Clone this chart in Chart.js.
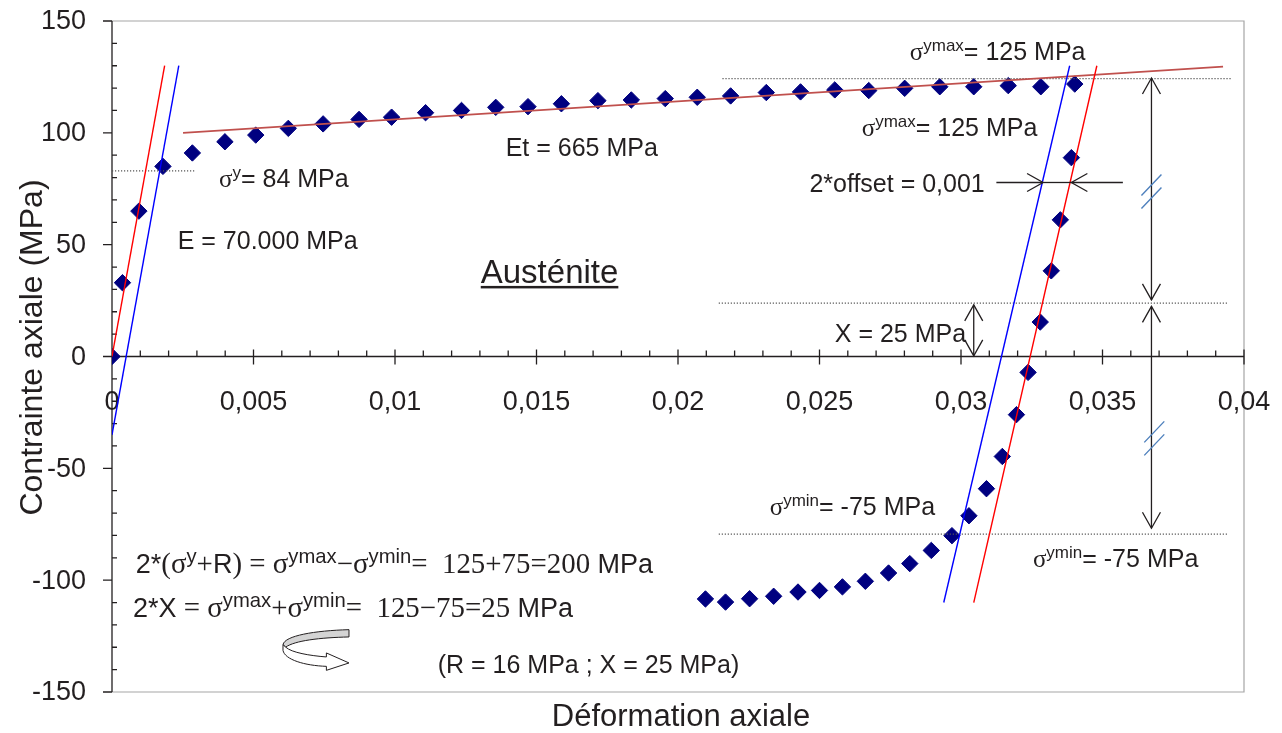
<!DOCTYPE html>
<html>
<head>
<meta charset="utf-8">
<script src="https://cdn.jsdelivr.net/npm/chart.js@4/dist/chart.umd.min.js"></script>
<style>
  html, body { margin: 0; padding: 0; background: #fff; }
  #wrap { width: 1282px; height: 733px; position: relative; }
</style>
</head>
<body>
<div id="wrap"><canvas id="courbe"></canvas></div>
<script>
// DONNEES DE L'ESSAI
const chargeDef = [0, 0.00037, 0.00095, 0.0018, 0.00284, 0.00399, 0.00508, 0.00623, 0.00746, 0.00873, 0.00988,
  0.01108, 0.01235, 0.01356, 0.0147, 0.01588, 0.01717, 0.01835, 0.01955, 0.02068, 0.02186,
  0.02312, 0.02433, 0.02554, 0.02674, 0.02801, 0.02925, 0.03045, 0.03167, 0.03282, 0.03402];
const chargeContr = [0, 33, 65, 85, 91, 96, 99, 102, 104, 106, 107,
  109, 110, 111.4, 111.7, 113, 114.4, 114.7, 115.3, 115.9, 116.5,
  118, 118.3, 119.2, 118.9, 119.9, 120.6, 120.6, 121.1, 120.6, 121.8];
const dechargeDef = [0.0339, 0.03351, 0.03319, 0.0328, 0.03237, 0.03196, 0.03146, 0.0309, 0.03028, 0.02968, 0.02895,
  0.02819, 0.02744, 0.02662, 0.02581, 0.025, 0.02424, 0.02338, 0.02253, 0.02168, 0.02097];
const dechargeContr = [88.9, 61.1, 38.3, 15.4, -7.1, -26, -44.7, -59.1, -71.2, -80.1, -86.7,
  -92.6, -96.8, -100.5, -103, -104.6, -105.3, -107.2, -108.3, -109.8, -108.4];

// droites
const elastDef = [0, 0.00186];          const elastContr = [0, 130];
const offsetDef = [0, 0.00236];         const offsetContr = [-35, 130];
const ecrouDef = [0.00251, 0.03926];    const ecrouContr = [100, 129.6];
const elast2Def = [0.03045, 0.0348];    const elast2Contr = [-110, 130];
const offset2Def = [0.02939, 0.03384];  const offset2Contr = [-110, 130];

// lignes pointillées
const sigYDef = [0, 0.00292];           const sigYContr = [83, 83];
const sigMaxDef = [0.02157, 0.03955];   const sigMaxContr = [124.2, 124.2];
const xDef = [0.02144, 0.0394];         const xContr = [23.9, 23.9];
const sigMinDef = [0.02144, 0.0394];    const sigMinContr = [-79.4, -79.4];

// axes
const xTicks = [0, 0.005, 0.01, 0.015, 0.02, 0.025, 0.03, 0.035, 0.04];
const yTicks = [150, 100, 50, 0, -50, -100, -150];

const INK = "#231f20";
const SANS = '"Liberation Sans", Arial, sans-serif';
const SERIF = '"Liberation Serif", "Times New Roman", serif';

function pts(xs, ys) {
  return xs.map((x, i) => ({ x: x, y: ys[i] }));
}

function droite(xs, ys, color, width, dash) {
  return {
    data: pts(xs, ys),
    showLine: true,
    borderColor: color,
    borderWidth: width,
    borderDash: dash || [],
    pointRadius: 0,
    order: 1,
  };
}

// textes (ancre gauche/ligne de base en coordonnées de données)
// 'a' = sans, 's' = serif, '^' = exposant
const textes = [
  { x: 0.00378, y: 75.8, size: 25, segs: [["σ", "s"], ["y", "^"], ["= 84 MPa", "a"]] },
  { x: 0.00232, y: 48.1, size: 25, segs: [["E = 70.000 MPa", "a"]] },
  { x: 0.01391, y: 89.7, size: 25, segs: [["Et = 665 MPa", "a"]] },
  { x: 0.02819, y: 132.6, size: 25, segs: [["σ", "s"], ["ymax", "^"], ["= 125 MPa", "a"]] },
  { x: 0.02649, y: 98.6, size: 25, segs: [["σ", "s"], ["ymax", "^"], ["= 125 MPa", "a"]] },
  { x: 0.03084, y: 73.6, size: 25, align: "right", segs: [["2*offset = 0,001", "a"]] },
  { x: 0.02554, y: 6.6, size: 25, segs: [["X = 25 MPa", "a"]] },
  { x: 0.02324, y: -70.8, size: 25, segs: [["σ", "s"], ["ymin", "^"], ["= -75 MPa", "a"]] },
  { x: 0.03254, y: -94, size: 25, segs: [["σ", "s"], ["ymin", "^"], ["= -75 MPa", "a"]] },
  { x: 0.00084, y: -96.7, size: 27, serif: 1.07, sup: 0.75, segs: [["2*", "a"], ["(", "s"], ["σ", "s"], ["y", "^"], ["+", "s"], ["R", "a"], [")", "s"],
      [" = ", "s"], ["σ", "s"], ["ymax", "^"], ["−", "s"], ["σ", "s"], ["ymin", "^"], ["=  125+75=200", "s"], [" MPa", "a"]] },
  { x: 0.00074, y: -116.3, size: 27, serif: 1.07, sup: 0.75, segs: [["2*X", "a"], [" = ", "s"], ["σ", "s"], ["ymax", "^"], ["+", "s"], ["σ", "s"], ["ymin", "^"],
      ["=  125−75=25", "s"], [" MPa", "a"]] },
  { x: 0.01151, y: -141.3, size: 25, segs: [["(R = 16 MPa ; X = 25 MPa)", "a"]] },
  { x: 0.01303, y: 32.9, size: 33, underline: true, segs: [["Austénite", "a"]] },
];

// flèches (coordonnées de données), têtes aux extrémités indiquées
const fleches = [
  { a: [0.03673, 124.5], b: [0.03673, 25.3], headA: true, headB: true },
  { a: [0.03673, 22.4], b: [0.03673, -76.8], headA: true, headB: true },
  { a: [0.03045, 23.1], b: [0.03045, 0.3], headA: true, headB: true },
  { a: [0.03125, 77.8], b: [0.0329, 77.8], headA: false, headB: true },
  { a: [0.03572, 77.8], b: [0.0339, 77.8], headA: false, headB: true },
  { a: [0.0329, 77.8], b: [0.0339, 77.8], headA: false, headB: false },
];
const coupures = [[0.03673, 73.8], [0.03683, -36.6]];
const iconeRot = [0.005572, -117.65];

function fmtX(v) {
  return v === 0 ? "0" : String(+v.toFixed(3)).replace(".", ",");
}

function segFont(t, k) {
  if (k === "^") return t.size * (t.sup || 0.68) + "px " + SANS;
  if (k === "s") return t.size * (t.serif || 1) + "px " + SERIF;
  return t.size + "px " + SANS;
}

function richWidth(ctx, t) {
  let w = 0;
  for (const [s, k] of t.segs) {
    ctx.font = segFont(t, k);
    w += ctx.measureText(s).width;
  }
  return w;
}

function drawRich(ctx, t, x, y) {
  if (t.align === "right") x -= richWidth(ctx, t);
  const x0 = x;
  for (const [s, k] of t.segs) {
    ctx.font = segFont(t, k);
    ctx.fillText(s, x, k === "^" ? y - t.size * 0.36 : y);
    x += ctx.measureText(s).width;
  }
  if (t.underline) {
    ctx.fillRect(x0, y + 3, x - x0, 2.5);
  }
}

function tete(ctx, tx, ty, fx, fy) {
  const ang = Math.atan2(ty - fy, tx - fx);
  const L = 16, W = 9;
  const bx = tx - Math.cos(ang) * L, by = ty - Math.sin(ang) * L;
  const nx = -Math.sin(ang) * W, ny = Math.cos(ang) * W;
  ctx.beginPath();
  ctx.moveTo(bx + nx, by + ny);
  ctx.lineTo(tx, ty);
  ctx.lineTo(bx - nx, by - ny);
  ctx.stroke();
}

const decor = {
  id: "decor",
  beforeDatasetsDraw(chart) {
    const { ctx, chartArea: ca, scales: { x, y } } = chart;
    const y0 = y.getPixelForValue(0);
    const x0 = x.getPixelForValue(0);
    ctx.save();
    // cadre
    ctx.strokeStyle = "#a6a6a6";
    ctx.lineWidth = 1.2;
    ctx.beginPath();
    ctx.moveTo(ca.left, ca.top);
    ctx.lineTo(ca.right, ca.top);
    ctx.lineTo(ca.right, ca.bottom);
    ctx.lineTo(ca.left, ca.bottom);
    ctx.stroke();

    ctx.strokeStyle = INK;
    ctx.lineWidth = 1.3;
    // axe y
    ctx.beginPath();
    ctx.moveTo(x0, ca.top);
    ctx.lineTo(x0, ca.bottom);
    for (let v = -150; v <= 150; v += 10) {
      const py = y.getPixelForValue(v);
      if (v % 50 === 0) { ctx.moveTo(x0 - 9, py); ctx.lineTo(x0, py); }
      else { ctx.moveTo(x0, py); ctx.lineTo(x0 + 5, py); }
    }
    // axe x en y = 0
    ctx.moveTo(x0, y0);
    ctx.lineTo(ca.right, y0);
    for (let i = 0; i <= 40; i++) {
      const px = x.getPixelForValue(i / 1000);
      if (i % 5 === 0) { ctx.moveTo(px, y0 - 7); ctx.lineTo(px, y0 + 8); }
      else { ctx.moveTo(px, y0 - 6); ctx.lineTo(px, y0); }
    }
    ctx.stroke();

    // étiquettes
    ctx.fillStyle = INK;
    ctx.font = "27px " + SANS;
    ctx.textAlign = "right";
    ctx.textBaseline = "middle";
    for (const v of yTicks) ctx.fillText(String(v), x0 - 26, y.getPixelForValue(v) + 1);
    ctx.textAlign = "center";
    ctx.textBaseline = "alphabetic";
    for (const v of xTicks) ctx.fillText(fmtX(v), x.getPixelForValue(v), y0 + 53);

    // titres
    ctx.font = "31px " + SANS;
    ctx.fillText("Déformation axiale", (ca.left + ca.right) / 2 + 3, 726);
    ctx.save();
    ctx.translate(42, (ca.top + ca.bottom) / 2 - 9);
    ctx.rotate(-Math.PI / 2);
    ctx.font = "32px " + SANS;
    ctx.fillText("Contrainte axiale (MPa)", 0, 0);
    ctx.restore();
    ctx.restore();
  },
  afterDatasetsDraw(chart) {
    const { ctx, scales: { x, y } } = chart;
    ctx.save();
    ctx.fillStyle = INK;
    ctx.textAlign = "left";
    ctx.textBaseline = "alphabetic";
    for (const t of textes) drawRich(ctx, t, x.getPixelForValue(t.x), y.getPixelForValue(t.y));

    // flèches
    ctx.strokeStyle = INK;
    ctx.lineWidth = 1.3;
    for (const f of fleches) {
      const ax = x.getPixelForValue(f.a[0]), ay = y.getPixelForValue(f.a[1]);
      const bx = x.getPixelForValue(f.b[0]), by = y.getPixelForValue(f.b[1]);
      ctx.beginPath();
      ctx.moveTo(ax, ay);
      ctx.lineTo(bx, by);
      ctx.stroke();
      if (f.headA) tete(ctx, ax, ay, bx, by);
      if (f.headB) tete(ctx, bx, by, ax, ay);
    }

    // coupures //
    ctx.strokeStyle = "#4f81bd";
    ctx.lineWidth = 1.4;
    for (const c of coupures) {
      const cx = x.getPixelForValue(c[0]), cy = y.getPixelForValue(c[1]);
      ctx.beginPath();
      ctx.moveTo(cx - 10, cy + 4); ctx.lineTo(cx + 10, cy - 17);
      ctx.moveTo(cx - 10, cy + 17); ctx.lineTo(cx + 10, cy - 4);
      ctx.stroke();
    }

    // icône de rotation
    const ox = x.getPixelForValue(iconeRot[0]), oy = y.getPixelForValue(iconeRot[1]);
    ctx.translate(ox, oy);
    ctx.lineWidth = 1;
    ctx.strokeStyle = INK;
    ctx.fillStyle = "#d4d4d4";
    ctx.beginPath();
    ctx.moveTo(79.3, 10);
    ctx.bezierCurveTo(45, 11, 15, 16, 13.3, 25);
    ctx.lineTo(16, 27.5);
    ctx.bezierCurveTo(25, 21, 50, 18, 79.3, 17.3);
    ctx.closePath();
    ctx.fill();
    ctx.stroke();
    ctx.fillStyle = "#fff";
    ctx.beginPath();
    ctx.moveTo(13.3, 25);
    ctx.lineTo(13.3, 30.7);
    ctx.bezierCurveTo(15, 40, 35, 46, 56.7, 46.7);
    ctx.lineTo(56.7, 50.7);
    ctx.lineTo(79.3, 43.3);
    ctx.lineTo(56.7, 33.3);
    ctx.lineTo(56.7, 37.3);
    ctx.bezierCurveTo(40, 36, 22, 33, 16, 27.5);
    ctx.closePath();
    ctx.fill();
    ctx.stroke();
    ctx.restore();
  },
};

const pointilles = [1.2, 1.8];

new Chart(document.getElementById("courbe"), {
  type: "scatter",
  data: {
    datasets: [
      droite(elastDef, elastContr, "#ff0000", 1.4),
      droite(offsetDef, offsetContr, "#0000ff", 1.4),
      droite(elast2Def, elast2Contr, "#ff0000", 1.4),
      droite(offset2Def, offset2Contr, "#0000ff", 1.4),
      droite(ecrouDef, ecrouContr, "#c0504d", 1.6),
      droite(sigYDef, sigYContr, "#555555", 1.2, pointilles),
      droite(sigMaxDef, sigMaxContr, "#555555", 1.2, pointilles),
      droite(xDef, xContr, "#555555", 1.2, pointilles),
      droite(sigMinDef, sigMinContr, "#555555", 1.2, pointilles),
      {
        data: pts(chargeDef, chargeContr).concat(pts(dechargeDef, dechargeContr)),
        pointStyle: "rectRot",
        pointRadius: 8.2,
        pointBackgroundColor: "#000080",
        pointBorderColor: "#000080",
        pointBorderWidth: 1,
        showLine: false,
        order: 5,
      },
    ],
  },
  options: {
    responsive: true,
    maintainAspectRatio: false,
    animation: false,
    layout: { padding: { left: 112, right: 38, top: 21, bottom: 41 } },
    plugins: { legend: { display: false }, tooltip: { enabled: false } },
    scales: {
      x: { type: "linear", min: 0, max: 0.04, display: false },
      y: { type: "linear", min: -150, max: 150, display: false },
    },
  },
  plugins: [decor],
});
</script>
</body>
</html>
